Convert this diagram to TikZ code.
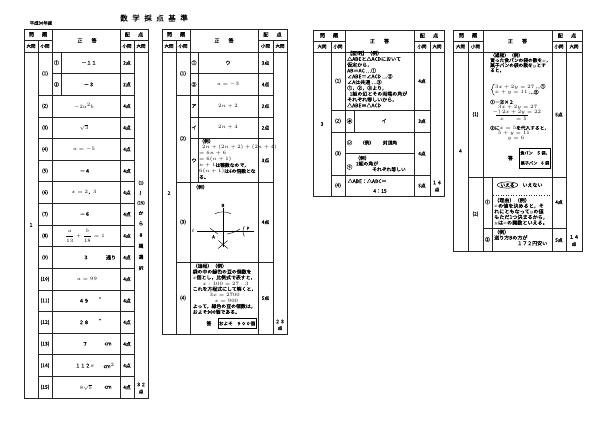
\documentclass[tikz,border=0pt]{standalone}
\usepackage{fontspec}
\setmainfont{Noto Sans CJK JP}[UprightFeatures={FakeBold=0.3}]
\usetikzlibrary{shapes.geometric}
\newcommand\fsz[1]{\fontsize{#1}{#1}\selectfont}
\tikzset{
  grid/.style={line width=0.55pt, black!85},
  frame/.style={line width=0.75pt, black!85},
  t/.style={inner sep=0pt, font=\fsz{5}},
  hd/.style={inner sep=0pt, font=\fsz{4.5}},
  hb/.style={inner sep=0pt, font=\fsz{5.2}},
  pt/.style={inner sep=0pt, font=\fsz{4.8}},
  lt/.style={inner sep=0pt, anchor=west, font=\fsz{4.8}},
  blk/.style={inner sep=0pt, anchor=north west, align=left},
  circ/.style={draw, circle, inner sep=0.25pt, line width=0.35pt, font=\fsz{3.4}},
}
\begin{document}
\begin{tikzpicture}[x=1pt,y=-1pt]
\useasboundingbox (0,0) rectangle (600,424);
\fill[white] (0,0) rectangle (600,424);

% title
\node[inner sep=0pt, font=\fsz{7.5}] (title) at (154,18) {数\hspace{4.5pt}学\hspace{4.5pt}採\hspace{4.5pt}点\hspace{4.5pt}基\hspace{4.5pt}準};
\node[inner sep=0pt, font=\fsz{4.4}] (year) at (41,23) {平成30年度};

% ================= TABLE 1 =================
\draw[frame] (24,29) rectangle (148,398);
\draw[grid] (24,40) -- (52,40) (120,40) -- (148,40) (24,52) -- (148,52);
\draw[grid] (38,40) -- (38,398) (52,29) -- (52,398) (120,29) -- (120,398) (134,40) -- (134,398);
\draw[grid] (61,52) -- (61,95.25);
\draw[grid] (52,73.63) -- (134,73.63);
\foreach \k in {2,...,15} \draw[grid] (38,{52+21.625*\k}) -- (134,{52+21.625*\k});

\node[hb] (a1h1) at (38,34.5) {問\hspace{8pt}題};
\node[hb] (a1h2) at (87,40.5) {正\hspace{9pt}答};
\node[hb] (a1h3) at (134,34.5) {配\hspace{8pt}点};
\node[hd] (a1h4) at (31,46) {大問};
\node[hd] (a1h5) at (45,46) {小問};
\node[hd] (a1h6) at (127,46) {小問};
\node[hd] (a1h7) at (141,46) {大問};

\node[t] (a1big) at (31,225) {1};
\node[t] (a1q1) at (45,73.63) {(1)};
\foreach \k/\lab in {3/2,4/3,5/4,6/5,7/6,8/7,9/8,10/9,11/10,12/11,13/12,14/13,15/14,16/15}
  \node[t] (a1q\k) at (45,{52+21.625*(\k-0.5)}) {(\lab)};
\node[t] (a1s1) at (56.5,62.81) {①};
\node[t] (a1s2) at (56.5,84.44) {②};
\node[pt] (a1p1) at (127,62.81) {2点};
\node[pt] (a1p2) at (127,84.44) {2点};
\foreach \k in {3,...,16}
  \node[pt] (a1p\k) at (127,{52+21.625*(\k-0.5)}) {4点};

\node[t] (a1r1) at (89,62.81) {－１１};
\node[t] (a1r2) at (89,84.44) {－３};
\node[t] (a1r3) at (84,106.06) {$-2a^{2}b$};
\node[t] (a1r4) at (84,127.69) {$\sqrt{3}$};
\node[t] (a1r5) at (84,149.31) {$a=-5$};
\node[t] (a1r6) at (85,170.94) {－４};
\node[t] (a1r7) at (84,192.56) {$x=2$，$3$};
\node[t] (a1r8) at (85,214.19) {－６};
\node[t] (a1r9) at (85,235.81) {$\displaystyle\frac{a}{13}+\frac{b}{18}=1$};
\node[t] (a1r10) at (86,257.44) {３};
\node[t] (a1u10) at (111,257.44) {通り};
\node[t] (a1r11) at (87,279.06) {$a=99$};
\node[t] (a1r12) at (84,300.69) {４９};
\node[t] (a1u12) at (100,299.2) {°};
\node[t] (a1r13) at (84,322.31) {２８};
\node[t] (a1u13) at (100,320.8) {°};
\node[t] (a1r14) at (85,343.94) {７};
\node[t] (a1u14) at (108,343.94) {cm};
\node[t] (a1r15) at (85,365.56) {１１２$\pi$};
\node[t] (a1u15) at (109,365.56) {cm$^{2}$};
\node[t] (a1r16) at (86,387.19) {$8\sqrt{5}$};
\node[t] (a1u16) at (108,387.19) {cm};

% vertical note
\node[pt, font=\fsz{4.3}] (v1) at (141,183) {(1)};
\node[pt, rotate=90] (v2) at (141,193) {〜};
\node[pt, font=\fsz{4.3}] (v3) at (141,203) {(15)};
\node[pt] (v4) at (141,213) {か};
\node[pt] (v5) at (141,223.5) {ら};
\node[pt] (v6) at (141,235) {８};
\node[pt] (v7) at (141,246) {題};
\node[pt] (v8) at (141,257) {選};
\node[pt] (v9) at (141,268) {択};
\node[pt] (a1tot1) at (141,384.5) {３２};
\node[pt] (a1tot2) at (141,391.5) {点};

% ================= TABLE 2 =================
\draw[frame] (162,29) rectangle (287,334);
\draw[grid] (162,40) -- (190,40) (258,40) -- (287,40) (162,52) -- (287,52);
\draw[grid] (176,40) -- (176,334) (190,29) -- (190,334) (258,29) -- (258,334) (273,40) -- (273,334);
\draw[grid] (198,52) -- (198,182);
\draw[grid] (190,73.63) -- (273,73.63) (176,95.25) -- (273,95.25) (190,116.88) -- (273,116.88)
  (190,138.5) -- (273,138.5) (176,182) -- (273,182) (176,262) -- (273,262);

\node[hb] (a2h1) at (176,34.5) {問\hspace{8pt}題};
\node[hb] (a2h2) at (224,40.5) {正\hspace{9pt}答};
\node[hb] (a2h3) at (272.5,34.5) {配\hspace{8pt}点};
\node[hd] (a2h4) at (169,46) {大問};
\node[hd] (a2h5) at (183,46) {小問};
\node[hd] (a2h6) at (265.5,46) {小問};
\node[hd] (a2h7) at (280,46) {大問};

\node[t] (a2big) at (169,193) {2};
\node[t] (a2q1) at (183,73.63) {(1)};
\node[t] (a2q2) at (183,138.6) {(2)};
\node[t] (a2q3) at (183,222) {(3)};
\node[t] (a2q4) at (183,298) {(4)};
\node[t] (a2s1) at (194,62.81) {①};
\node[t] (a2s2) at (194,84.44) {②};
\node[t] (a2s3) at (194,106.06) {ア};
\node[t] (a2s4) at (194,127.69) {イ};
\node[t] (a2s5) at (194,160.3) {ウ};
\node[t] (a2r1) at (228,62.81) {ウ};
\node[t] (a2r2) at (228,84.44) {$a=-3$};
\node[t] (a2r3) at (228,106.06) {$2n+2$};
\node[t] (a2r4) at (228,127.69) {$2n+4$};
\node[blk, font={\fontsize{4.8}{6}\selectfont}] (a2r5) at (199,138.6) {（例）\\
\hspace{3pt}$2n+(2n+2)+(2n+4)$\\
$=6n+6$\\
$=6(n+1)$\\
$n+1$は整数なので，\\
$6(n+1)$は6の倍数とな\\
る。};
\node[pt] (a2p1) at (265.5,62.81) {3点};
\node[pt] (a2p2) at (265.5,84.44) {4点};
\node[pt] (a2p3) at (265.5,106.06) {2点};
\node[pt] (a2p4) at (265.5,127.69) {2点};
\node[pt] (a2p5) at (265.5,160.3) {3点};
\node[pt] (a2p6) at (265.5,222) {4点};
\node[pt] (a2p7) at (265.5,298) {5点};
\node[pt] (a2tot1) at (280,321.5) {２３};
\node[pt] (a2tot2) at (280,328) {点};

% (3) construction
\node[lt] (a2ex) at (193,187) {（例）};
\draw[line width=0.5pt] (197,231) -- (254,231);
\node[inner sep=0pt, font=\fsz{5.5}] (ell) at (193,231) {$\ell$};
\draw[line width=0.5pt] (223,208) -- (223,247);
\draw[line width=0.45pt] (215,213.8) .. controls (219,211.2) and (227,211.2) .. (231,213.8);
\node[inner sep=0pt, font=\fsz{4.5}] (lbB) at (223,205.5) {B};
\draw[line width=0.45pt] (210,228.3) .. controls (212.5,230) and (215,232) .. (218,234);
\node[inner sep=0pt, font=\fsz{4.5}] (lbA) at (213.5,236.8) {A};
\draw[line width=0.45pt] (227,234) .. controls (231,233.5) and (236,231.5) .. (240,229);
\draw[line width=0.45pt] (244.3,226) .. controls (242.6,229) and (242.6,233) .. (244.3,236.5);
\node[inner sep=0pt, font=\fsz{4.5}] (lbP) at (248,228.5) {P};
\draw[line width=0.45pt] (218.5,240.5) .. controls (221,243) and (225,246) .. (228,248.5);
\draw[line width=0.45pt] (227.5,240.5) .. controls (225,243) and (221,246) .. (218,248.5);

% (4)
\node[blk, font={\fontsize{4.9}{5.75}\selectfont}] (a2r7) at (192.5,263.4) {（過程）（例）\\
袋の中の緑色の豆の個数を\\
$x$個とし，比例式で表すと，\\
\hspace{10pt}$x:100=27:3$\\
これを方程式にして解くと，\\
\hspace{17pt}$3x=2700$\\
\hspace{22pt}$x=900$\\
よって，緑色の豆の個数は，\\
およそ900個である。};
\node[t] (a2kotae) at (209,323.5) {答};
\node[draw, line width=0.5pt, minimum width=38pt, minimum height=10pt, inner sep=0pt, font=\fsz{4.6}] (a2ans) at (237,323.5) {およそ\hspace{4pt}９００個};

% ================= TABLE 3 =================
\draw[frame] (313,30) rectangle (444,196);
\draw[grid] (313,41) -- (345,41) (414,41) -- (444,41) (313,52) -- (444,52);
\draw[grid] (331,41) -- (331,196) (345,30) -- (345,196) (414,30) -- (414,196) (430,41) -- (430,196);
\draw[grid] (331,110) -- (430,110) (331,132) -- (430,132) (345,153.5) -- (414,153.5) (331,175) -- (430,175);
\draw[grid] (354,110) -- (354,132);

\node[hb] (a3h1) at (329,35.5) {問\hspace{8pt}題};
\node[hb] (a3h2) at (379.5,41) {正\hspace{9pt}答};
\node[hb] (a3h3) at (429,35.5) {配\hspace{8pt}点};
\node[hd] (a3h4) at (322,46.5) {大問};
\node[hd] (a3h5) at (338,46.5) {小問};
\node[hd] (a3h6) at (422,46.5) {小問};
\node[hd] (a3h7) at (437,46.5) {大問};

\node[t] (a3big) at (322,124) {3};
\node[t] (a3q1) at (338,81) {(1)};
\node[t] (a3q2) at (338,121) {(2)};
\node[t] (a3q3) at (338,153.5) {(3)};
\node[t] (a3q4) at (338,185.5) {(4)};
\node[blk, font={\fontsize{5}{5.8}\selectfont}] (a3r1) at (347,50.6) {【証明】（例）\\
△ABEと△ACDにおいて\\
仮定から，\\
AB＝AC …①\\
∠ABE＝∠ACD …②\\
∠Aは共通 …③\\
①，②，③より，\\
\hspace{2.5pt}1組の辺とその両端の角が\\
それぞれ等しいから，\\
△ABE≡△ACD};
\node[circ] (a3c1) at (349.5,121) {あ};
\node[t] (a3r2) at (384,121) {イ};
\node[circ] (a3c2) at (349.5,142.7) {い};
\node[t, font=\fsz{4.8}] (a3r3a) at (367,142.7) {（例）};
\node[t, font=\fsz{4.8}] (a3r3b) at (390,142.7) {対頂角};
\node[circ] (a3c3) at (349.5,167) {う};
\node[lt] (a3r4a) at (355,158) {（例）};
\node[lt] (a3r4b) at (356,163.6) {2組の角が};
\node[lt] (a3r4c) at (372,169.3) {それぞれ等しい};
\node[lt, font=\fsz{5}] (a3r5a) at (347.5,181) {△ABE：△ABC＝};
\node[t] (a3r5b) at (380,191) {4：15};
\node[pt] (a3p1) at (422,81) {4点};
\node[pt] (a3p2) at (422,121) {3点};
\node[pt] (a3p3) at (422,153.5) {4点};
\node[pt] (a3p4) at (422,185.5) {5点};
\node[pt] (a3tot1) at (437,182.5) {１６};
\node[pt] (a3tot2) at (437,189.5) {点};

% ================= TABLE 4 =================
\draw[frame] (453,30) rectangle (582,251);
\draw[grid] (453,41) -- (483,41) (552,41) -- (582,41) (453,52) -- (582,52);
\draw[grid] (468,41) -- (468,251) (483,30) -- (483,251) (552,30) -- (552,251) (566,41) -- (566,251);
\draw[grid] (468,177) -- (566,177) (483,228) -- (566,228);
\draw[grid] (492,177) -- (492,251);
\draw[grid, dotted] (493,195) -- (551,195);

\node[hb] (a4h1) at (468,35.5) {問\hspace{8pt}題};
\node[hb] (a4h2) at (517.5,41) {正\hspace{9pt}答};
\node[hb] (a4h3) at (567,35.5) {配\hspace{8pt}点};
\node[hd] (a4h4) at (460.5,46.5) {大問};
\node[hd] (a4h5) at (475.5,46.5) {小問};
\node[hd] (a4h6) at (559,46.5) {小問};
\node[hd] (a4h7) at (574,46.5) {大問};

\node[t] (a4big) at (460.5,151) {4};
\node[t] (a4q1) at (475.5,114.5) {(1)};
\node[t] (a4q2) at (475.5,214) {(2)};

\node[blk, font={\fontsize{4.7}{5}\selectfont}] (a4r1) at (490,52.8) {（過程）（例）\\
買った食パンの袋の数を$x$，\\
菓子パンの袋の数を$y$とす\\
ると，};
\draw[line width=0.45pt] (494.5,84) .. controls (492,84) and (493.3,89.3) .. (491.3,89.6) .. controls (493.3,89.9) and (492,95.2) .. (494.5,95.2);
\node[lt, font=\fsz{4.9}] (a4s1) at (495,86.6) {$3x+2y=27$ …①};
\node[lt, font=\fsz{4.9}] (a4s2) at (495,92.4) {$x+y=11$ …②};
\node[lt, font=\fsz{4.7}] (a4s3) at (490,102) {①－②×２};
\node[lt, font=\fsz{4.9}] (a4s4) at (498,107) {$3x+2y=27$};
\node[lt, font=\fsz{4.9}] (a4s5) at (492.5,112.2) {$-)\,2x+2y=22$};
\draw[line width=0.45pt] (496,115.2) -- (528,115.2);
\node[lt, font=\fsz{4.9}] (a4s6) at (500,118.8) {$x\hspace{10pt}=5$};
\node[lt, font=\fsz{4.7}] (a4s7) at (490,128) {②に$x=5$を代入すると，};
\node[lt, font=\fsz{4.9}] (a4s8) at (498,133.2) {$5+y=11$};
\node[lt, font=\fsz{4.9}] (a4s9) at (507.5,138.4) {$y=6$};
\node[t] (a4kotae) at (510.5,158) {答};
\node[draw, line width=0.5pt, minimum width=31pt, minimum height=20pt, inner sep=0pt] (a4box) at (535,158) {};
\node[t, font=\fsz{4.1}] (a4b1) at (535,153) {食パン\hspace{4pt}５\,袋，};
\node[t, font=\fsz{4.1}] (a4b2) at (535,163) {菓子パン\hspace{3pt}６\,袋};
\node[pt] (a4p1) at (559,114.5) {5点};

\node[t] (a4s21) at (487.5,202) {①};
\node[t] (a4s22) at (487.5,239.5) {②};
\node[draw, ellipse, inner sep=0.2pt, line width=0.5pt, font=\fsz{4.8}] (ieru) at (507.5,185) {いえる};
\node[t] (ienai) at (532.5,185) {いえない};
\node[blk, font={\fontsize{5.1}{5.6}\selectfont}] (a4r2) at (494,197.6) {（理由）（例）\\
$x$の値を決めると，そ\\
れにともなって$y$の値\\
もただ1つ決まるから，\\
$y$は$x$の関数といえる。};
\node[lt, font=\fsz{5}] (a4r3a) at (494,232) {（例）};
\node[lt, font=\fsz{5}] (a4r3b) at (494,237.6) {送り方Bの方が};
\node[lt, font=\fsz{5}] (a4r3c) at (517,243.2) {１７２円安い};
\node[pt] (a4p2) at (559,202) {4点};
\node[pt] (a4p3) at (559,240) {5点};
\node[pt] (a4tot1) at (574,237) {１４};
\node[pt] (a4tot2) at (574,244) {点};
\end{tikzpicture}
\end{document}
